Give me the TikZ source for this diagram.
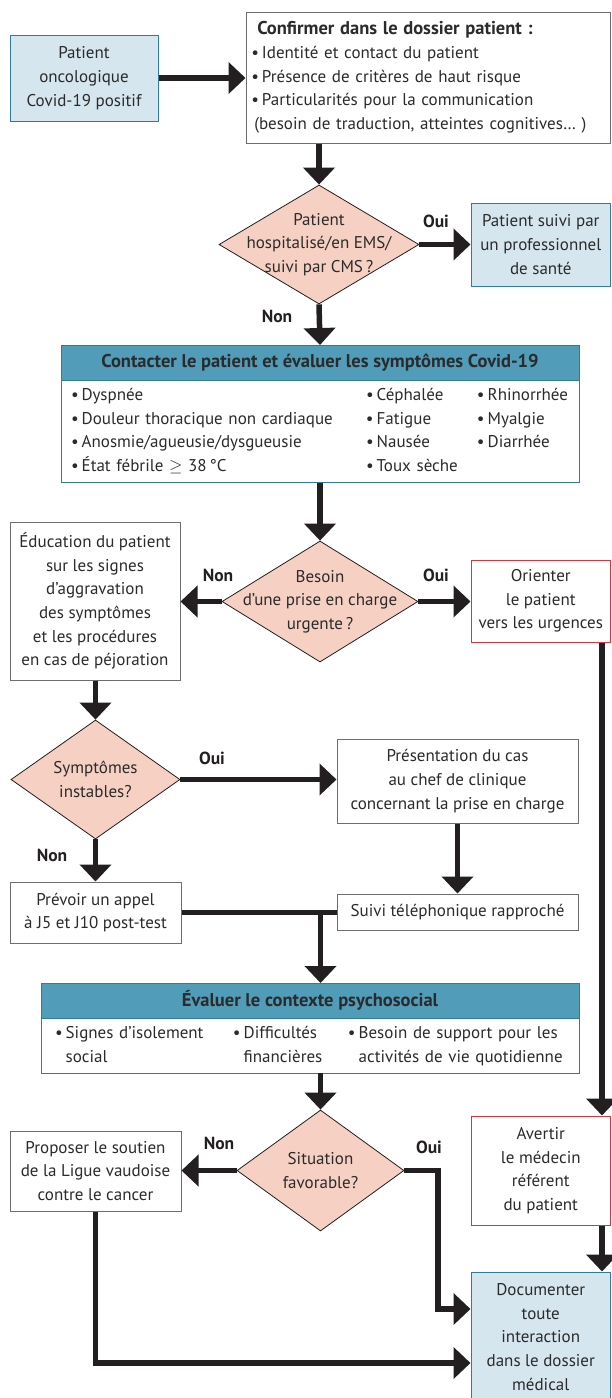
\documentclass[tikz,border=0pt]{standalone}
\usepackage{fontspec}
\setmainfont{PT Sans}
\usepackage{tikz}
\usetikzlibrary{shapes.geometric}
\usetikzlibrary{positioning}
\usetikzlibrary{arrows.meta}
\definecolor{lineblack}{HTML}{231F20}
\definecolor{textgray}{HTML}{2B2B2B}
\definecolor{paleblue}{HTML}{D6E6EE}
\definecolor{darkteal}{HTML}{2F7D9E}
\definecolor{headteal}{HTML}{519CB9}
\definecolor{salmon}{HTML}{F6D0C2}
\definecolor{alertred}{HTML}{E0323C}
\definecolor{boxgray}{HTML}{6D6E70}
\newcommand{\bul}{\textbullet\hspace{3pt}}
\newcommand{\bigbold}{\fontsize{18.5}{22}\selectfont\bfseries}
\tikzset{
    box/.style = {rectangle, line width=1pt, draw=boxgray, fill=white, align=center, inner sep=4pt, text=textgray},
    boxb/.style = {box, draw=darkteal, fill=paleblue},
    boxr/.style = {box, draw=alertred},
    head/.style = {box, draw=darkteal, fill=headteal, font=\bigbold, outer sep=0pt},
    listbox/.style = {box, draw=darkteal, align=left, outer sep=0pt},
    ask/.style = {diamond, line width=0.8pt, draw=lineblack, fill=salmon, align=center, inner sep=-30pt, text=textgray},
    answer/.style = {font=\fontsize{17.5}{20}\selectfont\bfseries, text=lineblack},
    edgen/.style = {-{Triangle[width=31pt,length=17pt]}, line width=5.5pt, draw=lineblack},
    edgel/.style = {line width=5.5pt, draw=lineblack}, % no tip
    every picture/.style={font issue=\fontsize{17}{23.7}\selectfont},
    font issue/.style={execute at begin picture={#1}
  }
}
\begin{document}
\begin{tikzpicture}[x=1pt,y=-1pt]
\useasboundingbox (0,0) rectangle (611,1398);
%
\node[boxb, minimum width=148pt, minimum height=86pt] at (84,78) (pat) {Patient\\oncologique\\Covid-19 positif};
\node[box, minimum width=364.5pt, minimum height=131pt, text width=354pt, align=left] at (428.25,77.5) (conf)
  {\hspace*{6pt}{\bigbold Confirmer dans le dossier patient :}\\
   \bul Identité et contact du patient\\
   \bul Présence de critères de haut risque\\
   \bul Particularités pour la communication\\
   \hspace*{3pt}(besoin de traduction, atteintes cognitives… )};
\node[ask, minimum width=200pt, minimum height=119pt] at (319,244.5) (hosp) {Patient\\hospitalisé/en EMS/\\suivi par CMS\,?};
\node[boxb, minimum width=139.5pt, minimum height=83pt] at (540.75,244.5) (suivi) {Patient suivi par\\un professionnel\\de santé};
%
\node[head, minimum width=518pt, minimum height=35pt] at (320,362.5) (symhead) {Contacter le patient et évaluer les symptômes Covid-19};
\node[listbox, minimum width=518pt, minimum height=102pt, text width=498pt, inner xsep=10pt, below=0pt of symhead] (symbody)
  {\begin{tabular}{@{}p{295pt}@{}p{111pt}@{}l@{}}
   \bul Dyspnée & \bul Céphalée & \bul Rhinorrhée\\
   \bul Douleur thoracique non cardiaque & \bul Fatigue & \bul Myalgie\\
   \bul Anosmie/agueusie/dysgueusie & \bul Nausée & \bul Diarrhée\\
   \bul État fébrile $\geq$ 38\,°C & \bul Toux sèche &
   \end{tabular}};
%
\node[ask, minimum width=196pt, minimum height=121pt] at (320,601.5) (urg) {Besoin\\d’une prise en charge\\urgente\,?};
\node[box, minimum width=170pt, minimum height=158pt] at (95,601) (edu) {Éducation du patient\\sur les signes\\d’aggravation\\des symptômes\\et les procédures\\en cas de péjoration};
\node[boxr, minimum width=139.5pt, minimum height=82pt] at (540.75,601) (orient) {Orienter\\le patient\\vers les urgences};
%
\node[ask, minimum width=169pt, minimum height=119pt] at (95.5,779.5) (instab) {Symptômes\\instables?};
\node[box, minimum width=241pt, minimum height=84pt] at (457.5,781) (chef) {Présentation du cas\\au chef de clinique\\concernant la prise en charge};
\node[box, minimum width=241pt, minimum height=36pt] at (457.5,912) (tel) {Suivi téléphonique rapproché};
\node[box, minimum width=171pt, minimum height=61pt] at (95.5,912.5) (appel) {Prévoir un appel\\à J5 et J10 post-test};
%
\node[head, minimum width=538pt, minimum height=35pt] at (310,1000.5) (psyhead) {Évaluer le contexte psychosocial};
\node[listbox, minimum width=538pt, minimum height=52pt, text width=510pt, inner xsep=14pt, below=0pt of psyhead] (psybody)
  {\begin{tabular}{@{}p{178pt}@{}p{115pt}@{}l@{}}
   \bul Signes d’isolement & \bul Difficultés & \bul Besoin de support pour les\\
   \phantom{\bul}social & \phantom{\bul}financières & \phantom{\bul}activités de vie quotidienne
   \end{tabular}};
%
\node[ask, minimum width=167pt, minimum height=121pt] at (320.5,1170.5) (favo) {Situation\\favorable?};
\node[box, minimum width=171pt, minimum height=80pt] at (95.5,1171) (ligue) {Proposer le soutien\\de la Ligue vaudoise\\contre le cancer};
\node[boxr, minimum width=139.5pt, minimum height=109pt] at (540.75,1170.5) (avert) {Avertir\\le médecin\\référent\\du patient};
\node[boxb, minimum width=139.5pt, minimum height=130pt] at (540.75,1337) (docu) {Documenter\\toute\\interaction\\dans le dossier\\médical};
%
\node[answer] at (436,221) (oui1) {Oui};
\node[answer] at (277,316) (non1) {Non};
\node[answer] at (218,575) (non2) {Non};
\node[answer] at (436,575) (oui2) {Oui};
\node[answer] at (212,758) (oui3) {Oui};
\node[answer] at (52,855) (non3) {Non};
\node[answer] at (219,1143) (non4) {Non};
\node[answer] at (429,1147) (oui4) {Oui};
%
\coordinate (bend) at (438,1309);
%
\draw[edgen] (pat.east) -- (pat.east -| conf.west);
\draw[edgen] (hosp.north |- conf.south) -- (hosp.north);
\draw[edgen] (hosp.east) -- (suivi.west);
\draw[edgen] (hosp.south) -- (symhead.north);
\draw[edgen] (symbody.south) -- (urg.north);
\draw[edgen] (urg.west) -- (urg.west -| edu.east);
\draw[edgen] (urg.east) -- (urg.east -| orient.west);
\draw[edgen] ([xshift=-9pt]orient.south east) -- ([xshift=-9pt]avert.north east);
\draw[edgen] (instab.north |- edu.south) -- (instab.north);
\draw[edgen] (instab.east) -- (instab.east -| chef.west);
\draw[edgen] (chef.south) -- (tel.north);
\draw[edgen] (instab.south) -- (appel.north);
\draw[edgel] (appel.east) -- (appel.east -| tel.west);
\draw[edgen] (favo.north |- appel.east) -- (favo.north |- psyhead.north);
\draw[edgen] (favo.north |- psybody.south) -- (favo.north);
\draw[edgen] (favo.west) -- (favo.west -| ligue.east);
\draw[edgen] (favo.east) -| (bend) -- (bend -| docu.west);
\draw[edgen] ([xshift=-9pt]avert.south east) -- ([xshift=-9pt]docu.north east);
\draw[edgen] (ligue.south) |- ([yshift=-26pt]docu.west);

\end{tikzpicture}
\end{document}
